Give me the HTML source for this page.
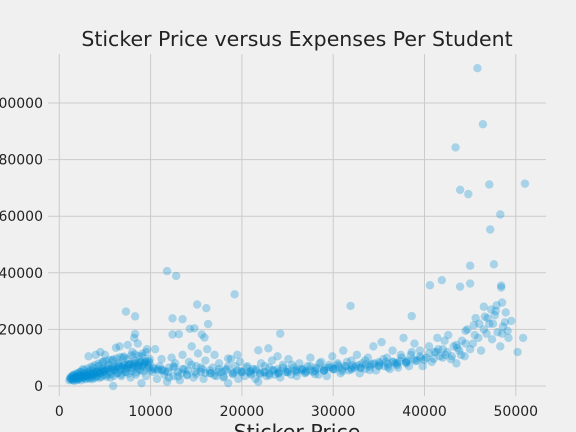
<!DOCTYPE html>
<html><head><meta charset="utf-8"><style>
html,body{margin:0;padding:0;background:#f0f0f0;}
svg{display:block;font-family:"DejaVu Sans","Liberation Sans",sans-serif;}
</style></head><body>
<svg id="chart" width="576" height="432" viewBox="0 0 576 432">
<rect x="0" y="0" width="576" height="432" fill="#f0f0f0"/>
<g id="grid"></g>
<g id="points"></g>
<g id="ticks"></g>
<text x="297" y="46" text-anchor="middle" font-size="20.5" fill="#222">Sticker Price versus Expenses Per Student</text>
<text x="297" y="439" text-anchor="middle" font-size="20.5" fill="#222">Sticker Price</text>
</svg>
<script>
const xTicks = [0, 10000, 20000, 30000, 40000, 50000];
const yTicks = [0, 20000, 40000, 60000, 80000, 100000];
const stickerPrice = [
45800,46400,43400,47100,51000,43900,44800,48300,47200,45000,47600,45000,41900,40600,43900,48400,48400,31900,38600,
11800,12800,19200,7300,8300,15100,16100,12400,13500,16300,14300,14800,8300,12400,13100,15600,15900,24200,8200,22900,21800,23900,18500,19500,
1100,1200,1300,1400,1500,1600,1700,1800,1900,2000,2100,2200,2300,2400,2500,2600,2700,2800,2900,3000,3100,3200,3300,3400,3500,3600,3700,3800,3900,4000,4100,4200,4300,4400,4500,4600,4700,4800,4900,5000,
5200,5400,5600,5800,5900,6000,6200,6300,6500,6600,6800,7000,7100,7300,7500,7600,7800,8000,8100,8300,8400,8600,8700,8900,9000,9100,9300,9500,9600,9800,9900,
10200,10500,10700,11000,11200,11500,11800,12000,12300,12500,12700,13000,13200,13500,13700,14000,14200,14500,14700,15000,15200,15500,15800,16000,16200,16500,16800,17000,17200,17500,17800,18000,18300,18500,18800,19000,19300,19600,19800,20000,
20300,20600,20900,21200,21500,21800,22100,22400,22700,23000,23300,23600,23900,24200,24500,24800,25100,25400,25700,26000,26300,26600,26900,27200,27500,27800,28100,28400,28700,29000,29300,29600,29900,
30200,30500,30800,31100,31400,31700,32000,32300,32600,32900,33200,33500,33800,34100,34400,34700,35000,35300,35600,35900,36200,36500,36800,37100,37400,37700,38000,38300,38600,38900,39200,39500,39800,
40200,40500,40800,41100,41400,41700,42000,42300,42600,42900,43200,43500,43800,44100,44400,44700,45000,45300,45600,45900,46200,46500,46800,47100,47400,47700,48000,48300,48600,48900,49200,49500,50200,50800,
1200,1300,1500,1700,1900,2100,2300,2500,2700,2900,3100,3300,3500,3700,3900,4100,4300,4500,4700,4900,5100,5300,5500,5700,5900,6100,6300,6500,6700,6900,7100,7300,7500,7700,7900,8100,8300,8500,8700,8900,9100,9300,9500,9700,9900,
1400,1800,2200,2600,3000,3400,3800,4200,4600,5000,5400,5800,6200,6600,7000,7400,7800,8200,8600,9000,9400,9800,10300,10800,11300,11900,12600,13400,14100,14900,15700,16600,17400,18200,19100,19900,
20800,21600,22500,23300,24100,25000,25800,26700,27500,28300,29100,29800,30600,31300,32100,32800,33600,34300,35100,35800,36600,37300,38100,38800,39600,
21000,22000,23000,24000,25000,26000,27000,28000,29000,30000,31000,32000,33000,34000,35000,36000,37000,38000,39000,40000,41000,42000,43000,44000,
46000,46600,47300,47900,48500,44500,45400,46900,47800,48800,49100,42200,43600,41300,
1600,2000,2400,2800,3200,3600,4000,4400,4800,5200,5600,6000,6400,6800,7200,7600,8000,8400,8800,9200,9600,10000,10400,10800,11200,11600,
1500,1900,2300,2700,3100,3500,3900,4300,4700,5100,5500,5900,6300,6700,7100,7500,7900,8300,8700,9100,9500,
12000,13000,14000,15000,16000,17000,18000,19000,20000,21000,22000,23000,24000,25000,26000,27000,28000,29000,30000,31000,32000,33000,34000,35000,36000,37000,38000,
12500,13500,14500,15500,16500,17500,18500,19500,20500,21500,22500,23500,24500,25500,26500,27500,28500,29500,30500,31500,32500,33500,34500,35500,36500,37500,38500,39500,
40500,41500,42500,43500,44500,45500,46500,47500,48500
];
const expensesPerStudent = [
112300,92500,84300,71200,71500,69300,67800,60600,55300,42500,43000,36200,37400,35600,35100,35500,34800,28300,24700,
40600,38900,32400,26300,24600,28800,27500,23900,23600,21900,20200,20400,18400,18200,18300,18200,17100,18500,17000,13300,12600,10500,9700,11000,
2000,3000,2500,3500,2200,4000,2800,3300,2000,4500,3000,2500,5000,3500,2800,6000,4000,3200,2400,4800,3500,10500,2600,5500,3800,3000,6500,4200,2800,11000,5000,3500,7000,4500,12000,3200,6000,8500,5000,11000,
4000,7500,3000,9000,0,5500,13500,4500,8000,14000,3500,10000,6000,5000,14500,7500,3000,12000,6500,9000,4000,15000,7000,5500,1000,10500,8000,3500,13000,6500,9500,
5000,13000,2500,7000,9500,4000,1500,6500,10000,3500,8000,5000,2000,11000,6000,4000,8500,14000,3000,7000,11500,5000,2500,9000,13000,4500,6500,11000,3500,8000,5000,3000,6000,1000,9500,4500,7000,2500,8500,5000,
3500,7000,4500,6000,2500,1500,8000,5000,3500,6500,9000,4000,6000,3000,7500,5000,9500,4000,6500,3500,8000,5500,4500,7000,10000,5000,6500,4000,8500,5500,3500,7500,10500,
6000,8000,4500,12500,7000,5500,9000,6500,11000,4500,8000,6000,10000,7500,14000,5500,8500,15500,7000,10000,6000,12500,8000,6500,11000,17000,8500,7000,12000,15000,9000,10500,7000,
10000,14000,8500,12000,17000,10500,13000,11000,18000,9500,14000,8000,12500,16000,10500,20000,13000,15000,24000,17000,12500,28000,18500,22000,16500,25000,19000,14000,21000,26000,17000,23000,12000,17000,
2500,3000,2800,3500,3000,3800,4000,3200,4500,3600,4000,4800,3800,5200,4400,5000,5500,4600,6000,5200,5800,6400,5000,6000,6800,5600,6200,7200,5800,6600,7400,6200,7000,7800,6400,7200,8000,6800,7600,8400,7000,7800,8600,7400,8200,
2200,2600,3000,3400,3800,4200,4600,4800,5200,5600,6000,6400,6800,7000,7400,7600,7800,8000,8200,8400,8600,8800,6500,6000,5500,5000,6500,4500,5500,5000,6000,4500,5000,5500,4800,5200,
5000,5400,4800,5600,5200,5800,5500,6000,5600,6200,6400,6600,6800,7000,7200,7400,7600,7800,8000,8400,8600,8800,9000,9400,9800,
4000,4200,4400,4600,4800,5000,5200,5400,5600,5800,6000,6200,6500,6800,7200,7600,8000,8400,8800,9200,9600,10000,10500,11000,
22000,24500,27000,28500,29500,19500,21500,24000,26500,22500,19500,16000,13500,12000,
1800,2300,2000,2600,3000,2400,3400,2900,3800,3300,4200,3600,4600,4100,5000,4400,5400,4800,5800,5200,6200,5600,6000,5400,5800,5200,
3800,4400,5000,5600,6200,6800,7400,7900,8400,8800,9200,9400,9800,10200,10400,9600,10800,11200,10600,11400,12000,
3000,3400,3800,4200,4600,3800,3400,4200,4800,5200,4600,3800,4400,5000,5600,4800,4200,5400,6000,5200,5800,6400,5600,7000,6600,7400,8000,
7000,6000,7500,6500,5500,6000,7000,5500,6500,6000,7000,5500,6500,7500,6000,7000,8000,6500,7500,8500,7000,9000,8000,9500,8500,10000,11000,12500,
11500,13000,12000,14500,15000,18000,20000,22000,18500
];
const X0 = 59.3, XS = 9.13 / 1000, Y0 = 386, YS = 2.83 / 1000;
const L = 48, R = 546, T = 54, B = 396;
function xScale(v) { return X0 + v * XS; }
function yScale(v) { return Y0 - v * YS; }
const NS = 'http://www.w3.org/2000/svg';
const grid = document.getElementById('grid');
const ticks = document.getElementById('ticks');
const pts = document.getElementById('points');
xTicks.forEach(function (t) {
  const x = xScale(t);
  const ln = document.createElementNS(NS, 'line');
  ln.setAttribute('x1', x); ln.setAttribute('x2', x);
  ln.setAttribute('y1', T); ln.setAttribute('y2', B);
  ln.setAttribute('stroke', '#cbcbcb'); ln.setAttribute('stroke-width', '1');
  
  
  grid.appendChild(ln);
  const tx = document.createElementNS(NS, 'text');
  tx.setAttribute('x', x); tx.setAttribute('y', 416);
  tx.setAttribute('text-anchor', 'middle'); tx.setAttribute('font-size', '14'); tx.setAttribute('fill', '#222');
  tx.textContent = String(t);
  
  
  ticks.appendChild(tx);
});
yTicks.forEach(function (t) {
  const y = yScale(t);
  const ln = document.createElementNS(NS, 'line');
  ln.setAttribute('x1', L); ln.setAttribute('x2', R);
  ln.setAttribute('y1', y); ln.setAttribute('y2', y);
  ln.setAttribute('stroke', '#cbcbcb'); ln.setAttribute('stroke-width', '1');
  
  
  grid.appendChild(ln);
  const tx = document.createElementNS(NS, 'text');
  tx.setAttribute('x', 43); tx.setAttribute('y', y + 5);
  tx.setAttribute('text-anchor', 'end'); tx.setAttribute('font-size', '14'); tx.setAttribute('fill', '#222');
  tx.textContent = String(t);
  
  
  ticks.appendChild(tx);
});
const n = Math.min(stickerPrice.length, expensesPerStudent.length);
for (let i = 0; i < n; i++) {
  const c = document.createElementNS(NS, 'circle');
  c.setAttribute('cx', xScale(stickerPrice[i]));
  c.setAttribute('cy', yScale(expensesPerStudent[i]));
  c.setAttribute('r', '4.2');
  c.setAttribute('fill', '#008fd5');
  c.setAttribute('fill-opacity', '0.3');
  
  
  pts.appendChild(c);
}
</script>
</body></html>
